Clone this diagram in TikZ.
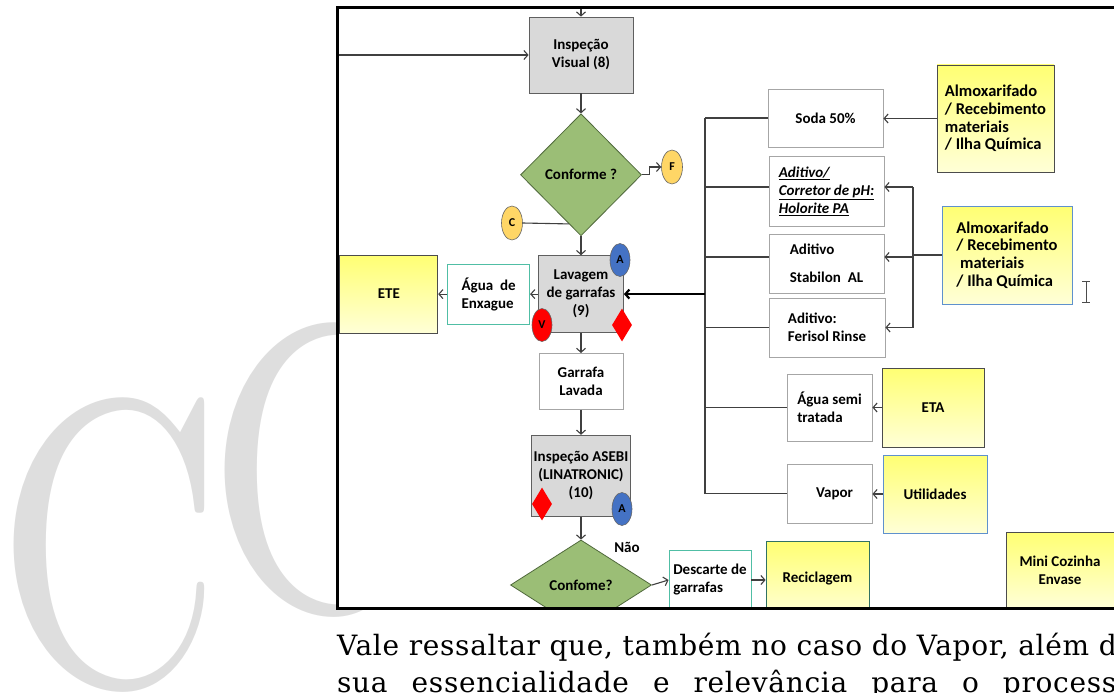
\documentclass[tikz,border=0pt]{standalone}
\usepackage{fontspec}
\newfontfamily\calib{Carlito}
\newfontfamily\serifa[LetterSpace=2.5]{DejaVu Serif}
\usepackage{graphicx}
\usetikzlibrary{positioning}
\usetikzlibrary{shapes.geometric}
\usetikzlibrary{arrows.meta}
\usetikzlibrary{calc}

\definecolor{cinza}{RGB}{217,217,217}
\definecolor{cinzaborda}{RGB}{95,95,95}
\definecolor{verde}{RGB}{155,190,118}
\definecolor{verdeborda}{RGB}{80,105,60}
\definecolor{amareloA}{RGB}{255,255,115}
\definecolor{amareloB}{RGB}{255,255,215}
\definecolor{azulborda}{RGB}{95,145,205}
\definecolor{turquesa}{RGB}{80,190,165}
\definecolor{ocre}{RGB}{255,214,102}
\definecolor{azul}{RGB}{68,114,196}
\definecolor{marcad}{RGB}{222,222,222}

\begin{document}
\begin{tikzpicture}
    [x=1pt,y=-1pt,>={Straight Barb[length=4pt,width=9pt]},
     every node/.style={font=\calib\bfseries\fontsize{15}{18}\selectfont,inner sep=2pt}]

    \tikzstyle{proc}     = [draw=cinzaborda,fill=cinza,line width=0.8pt,align=center]
    \tikzstyle{decisao}  = [diamond,draw=verdeborda,fill=verde,line width=0.8pt,inner sep=0pt]
    \tikzstyle{insumo}   = [draw=gray!70,fill=white,line width=0.8pt,align=left]
    \tikzstyle{fonte}    = [draw=black!70,top color=amareloA,bottom color=amareloB,line width=0.8pt,align=left]
    \tikzstyle{almox}    = [fonte,font=\calib\bfseries\fontsize{16.5}{17.7}\selectfont]
    \tikzstyle{saida}    = [draw=turquesa,fill=white,line width=0.9pt,align=left]
    \tikzstyle{conector} = [ellipse,draw=black!60,line width=0.6pt,inner sep=0pt,
                            minimum width=21pt,minimum height=34pt,font=\calib\bfseries\fontsize{12}{12}\selectfont]
    \tikzstyle{risco}    = [diamond,fill=red,inner sep=0pt,minimum width=20pt,minimum height=33pt]
    \tikzstyle{seta}     = [->,draw=black!75,line width=1.1pt]
    \tikzstyle{linha}    = [draw=black!75,line width=1.1pt]
    \tikzstyle{marca}    = [inner sep=0pt,text=marcad,font=\rmfamily\mdseries]
    \tikzstyle{texto}    = [inner sep=0pt,font=\serifa\mdseries\fontsize{28}{37}\selectfont]

    \clip (0,0) rectangle (1114,693);

    % marca d'agua
    \node [marca,anchor=base west] (c1) at (-4,683) {\resizebox{226pt}{285pt}{C}};
    \node [marca,anchor=base west] (c2) at (207,608) {\resizebox{226pt}{285pt}{C}};

    \coordinate (quadro) at (337,8);
    \fill [white] (quadro) rectangle (1140,608);

    \begin{scope}
    \clip (quadro) rectangle (1140,608);

    % coluna principal
    \node [proc,minimum width=104pt,minimum height=76pt] (insp) at (581,55) {Inspeção\\Visual (8)};
    \node [decisao,minimum width=121pt,minimum height=122pt,below=20pt of insp] (conf) {Conforme ?};
    \node [proc,minimum width=85pt,minimum height=77pt,below=19pt of conf] (lav) {Lavagem\\de garrafas\\(9)};
    \node [insumo,align=center,minimum width=84pt,minimum height=56pt,below=20pt of lav] (garrafa) {Garrafa\\Lavada};
    \node [proc,minimum width=97pt,minimum height=81pt,below=25pt of garrafa] (asebi) {Inspeção ASEBI\\(LINATRONIC)\\(10)};
    \node [decisao,minimum width=141pt,minimum height=90pt,below=23pt of asebi] (conf2) {Confome?};
    \node (nao) at (627,547) {Não};

    \node [conector,fill=ocre] (f) at (672,167) {F};
    \node [conector,fill=ocre] (c) at (512,223) {C};
    \node [conector,fill=azul,minimum width=20pt,minimum height=33pt] (a1) at (620,260) {A};
    \node [conector,fill=red,minimum width=20pt,minimum height=33pt] (v) at (542,325) {V};
    \node [risco] (r1) at (622,325) {};
    \node [risco] (r2) at (542,504) {};
    \node [conector,fill=azul,minimum width=20pt,minimum height=33pt] (a2) at (622,509) {A};

    % saidas
    \node [saida,minimum width=82pt,minimum height=60pt,left=8pt of lav] (agua) {Água\ \ de\\Enxague};
    \node [fonte,align=center,minimum width=98pt,minimum height=78pt,left=9pt of agua] (ete) {ETE};
    \node [saida,minimum width=82pt,minimum height=60pt] (desc) at (710,580) {Descarte de\\garrafas};
    \node [fonte,draw=turquesa!60!black,align=center,minimum width=103pt,minimum height=76pt] (recicl) at (817.5,579) {Reciclagem};
    \node [fonte,align=center,minimum width=108pt,minimum height=76pt] (mini) at (1060,570) {Mini Cozinha\\Envase};

    % insumos
    \node [insumo,align=center,minimum width=115pt,minimum height=58pt] (soda) at (825.5,118) {Soda 50\%};
    \node [insumo,minimum width=115pt,minimum height=70pt] (corr) at (826.5,191)
          {\underline{\itshape Aditivo/}\\\underline{\itshape Corretor de pH:}\\\underline{\itshape Holorite PA}};
    \node [insumo,minimum width=115pt,minimum height=59pt] (stab) at (826.5,263.5) {Aditivo\\[10pt]Stabilon\ \ AL};
    \node [insumo,minimum width=116pt,minimum height=59pt] (ferisol) at (827,327.5) {Aditivo:\\Ferisol Rinse};
    \node [insumo,minimum width=85pt,minimum height=67pt] (aguasemi) at (829.5,407.5) {Água semi\\tratada};
    \node [insumo,align=center,minimum width=85pt,minimum height=59pt] (vapor) at (829.5,493.5) {\ \ \ Vapor};

    % fornecedores
    \node [almox,minimum width=117pt,minimum height=107pt] (almox1) at (995.5,118.5)
          {Almoxarifado\\/ Recebimento\\materiais\\/ Ilha Química};
    \node [almox,draw=azulborda,minimum width=130pt,minimum height=98pt] (almox2) at (1007,255)
          {Almoxarifado\\/ Recebimento\\\ materiais\\/ Ilha Química};
    \node [fonte,align=center,minimum width=102pt,minimum height=79pt] (eta) at (933,407.5) {ETA};
    \node [fonte,draw=azulborda,align=center,minimum width=104pt,minimum height=78pt] (util) at (935,494) {Utilidades};

    % fluxo principal
    \draw [seta] (insp.north |- quadro) -- (insp.north);
    \draw [seta] (quadro |- insp.west) -- (insp.west);
    \draw [seta] (insp) -- (conf);
    \draw [seta] (conf.east) -- ++(8,0) |- (f.west);
    \draw [linha] (c.east) -- ($(conf.south)!0.2!(conf.west)$);
    \draw [seta] (conf.south) -- (conf.south |- lav.north);
    \draw [seta] (lav.west) -- (agua.east);
    \draw [seta] (agua.west) -- (ete.east);
    \draw [seta] (lav) -- (garrafa);
    \draw [seta] (garrafa) -- (asebi);
    \draw [seta] (asebi) -- (conf2);
    \draw [seta] (conf2.east) -- (desc.west);
    \draw [seta] (desc.east) -- (desc.east -| recicl.west);

    % barra de insumos
    \coordinate (barra) at (705,0);
    \coordinate (barra2) at (913,0);
    \draw [linha] (barra |- soda.west) -- (barra |- vapor.west);
    \foreach \n in {soda,ferisol,aguasemi,vapor}
        \draw [linha] (barra |- \n.west) -- (\n.west);
    \draw [linha] ([yshift=4pt]barra |- corr.west) -- ([yshift=4pt]corr.west);
    \draw [linha] ([yshift=6.5pt]barra |- stab.west) -- ([yshift=6.5pt]stab.west);
    \draw [->,line width=2.2pt] (barra |- lav.east) -- (lav.east);

    \draw [seta] (almox1.west) -- (almox1.west -| soda.east);
    \draw [seta] (eta.west) -- (aguasemi.east);
    \draw [seta] (util.west) -- (util.west -| vapor.east);
    \draw [linha] ([yshift=4pt]barra2 |- corr.east) -- (barra2 |- ferisol.east);
    \draw [seta] ([yshift=4pt]barra2 |- corr.east) -- ([yshift=4pt]corr.east);
    \draw [seta] ([yshift=6.5pt]barra2 |- stab.east) -- ([yshift=6.5pt]stab.east);
    \draw [seta] (barra2 |- ferisol.east) -- (ferisol.east);
    \draw [linha,line width=1.8pt] (almox2.west) -- (barra2 |- almox2.west);

    % cursor
    \draw [black!70,line width=0.8pt] (1082,281) -- (1090,281) (1086,281) -- (1086,302) (1082,302) -- (1090,302);
    \end{scope}

    \draw [line width=3pt] (1140,8) -- (quadro) |- (1140,608);

    \node [texto,anchor=base west] (linha1) at (337,655) {Vale ressaltar que, também no caso do Vapor, além d};
    \node [texto,anchor=base west] (linha2) at (337,692) {\spaceskip=24pt sua essencialidade e relevância para o process};
\end{tikzpicture}
\end{document}
